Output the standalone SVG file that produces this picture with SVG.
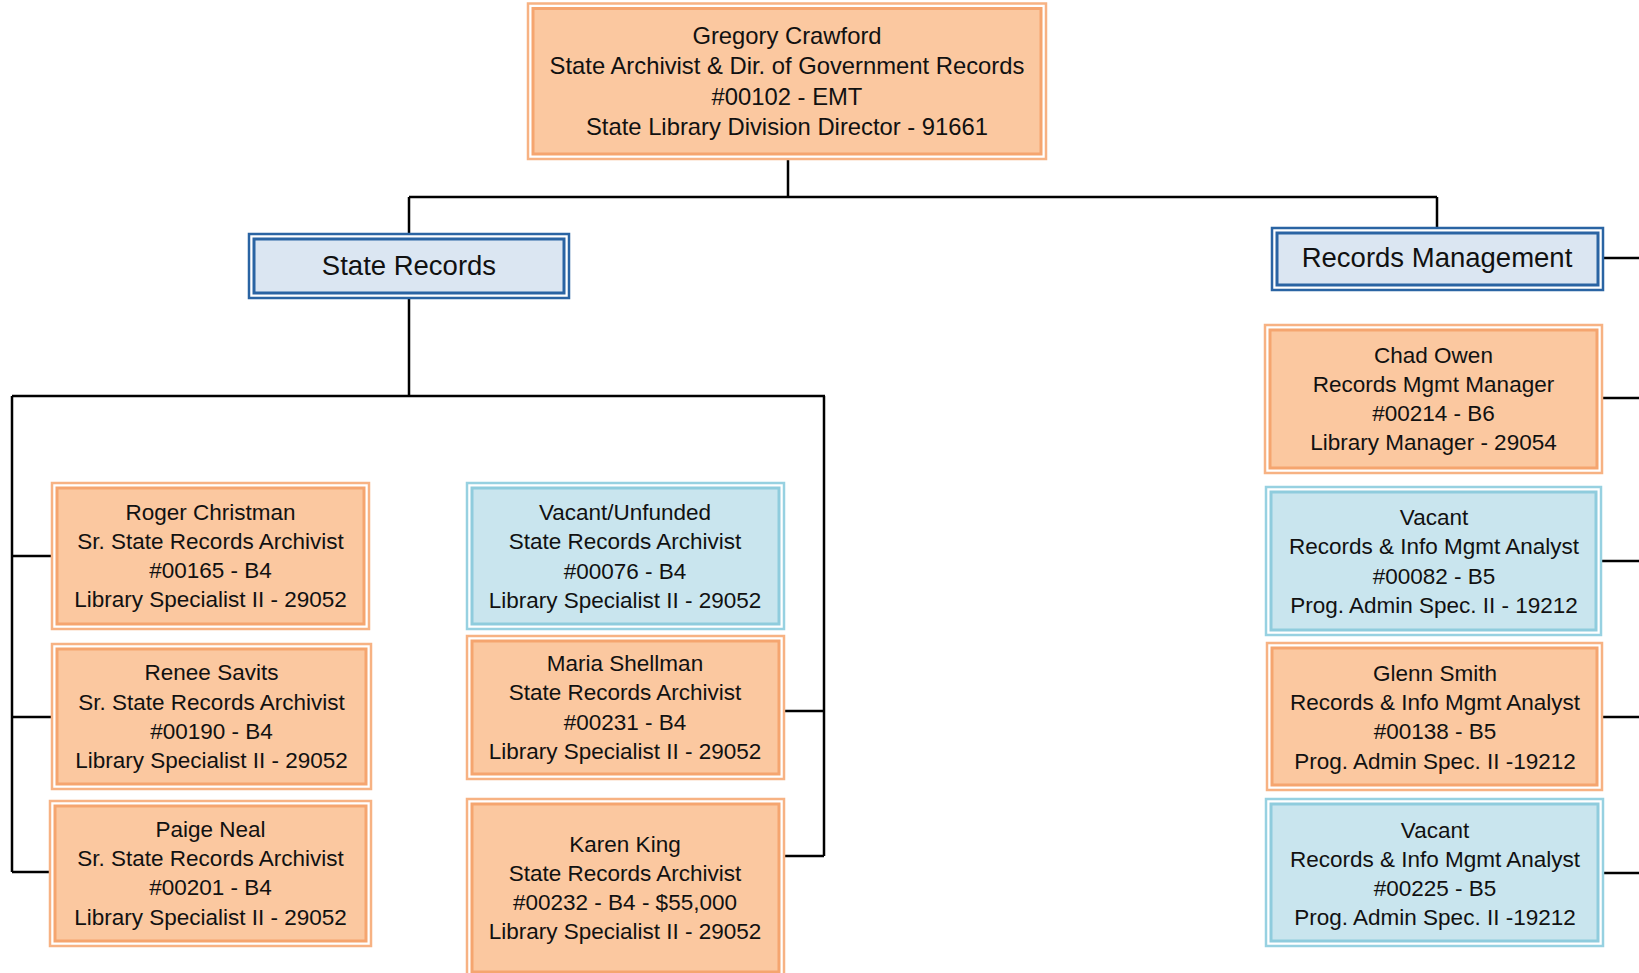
<svg xmlns="http://www.w3.org/2000/svg" width="1639" height="973" viewBox="0 0 1639 973">
<style>
.o1{fill:#ffffff;stroke:#F7B283;stroke-width:2.5}
.o2{fill:#FBC8A0;stroke:#F5A56F;stroke-width:3}
.b1{fill:#ffffff;stroke:#97D1E1;stroke-width:2.5}
.b2{fill:#C9E5EE;stroke:#8FCCDD;stroke-width:3}
.t1{fill:#ffffff;stroke:#2A64A3;stroke-width:2.5}
.t2{fill:#DBE6F2;stroke:#2A64A3;stroke-width:3}
text{font-family:"Liberation Sans",Arial,sans-serif;fill:#111;text-anchor:middle}
.n{font-size:22.5px}
.g{font-size:23.8px}
.h{font-size:27.5px}
.c{fill:none;stroke:#000;stroke-width:2.5}
</style>
<rect width="1639" height="973" fill="#ffffff"/>
<g id="connectors">
<path class="c" d="M788 159V197M409 197H1437M409 197V234M1437 197V228"/>
<path class="c" d="M409 298V396M12 396H825M12 396V872M12 556H52M12 717H52M12 872H50"/>
<path class="c" d="M824 396V856M784 711H824M784 856H824"/>
<path class="c" d="M1603 258H1639M1602 398H1639M1601 561H1639M1602 717H1639M1603 873H1639"/>
</g>
<g id="gregory">
<rect class="o1" x="528" y="3.5" width="518" height="155.5"/>
<rect class="o2" x="533" y="8.5" width="508" height="145.5"/>
<text class="g" x="787" y="43.5">Gregory Crawford</text>
<text class="g" x="787" y="74">State Archivist &amp; Dir. of Government Records</text>
<text class="g" x="787" y="104.5">#00102 - EMT</text>
<text class="g" x="787" y="135">State Library Division Director - 91661</text>
</g>
<g id="state-records">
<rect class="t1" x="249" y="234" width="320" height="64"/>
<rect class="t2" x="254" y="239" width="310" height="54"/>
<text class="h" x="409" y="275">State Records</text>
</g>
<g id="records-management">
<rect class="t1" x="1272" y="228" width="331" height="62"/>
<rect class="t2" x="1277" y="233" width="321" height="52"/>
<text class="h" x="1437" y="267">Records Management</text>
</g>
<g id="roger">
<rect class="o1" x="52" y="483" width="317" height="146"/>
<rect class="o2" x="57" y="488" width="307" height="136"/>
<text class="n" x="210.5" y="520">Roger Christman</text>
<text class="n" x="210.5" y="549">Sr. State Records Archivist</text>
<text class="n" x="210.5" y="578">#00165 - B4</text>
<text class="n" x="210.5" y="607">Library Specialist II - 29052</text>
</g>
<g id="renee">
<rect class="o1" x="52" y="644" width="319" height="145"/>
<rect class="o2" x="57" y="649" width="309" height="135"/>
<text class="n" x="211.5" y="680">Renee Savits</text>
<text class="n" x="211.5" y="709.5">Sr. State Records Archivist</text>
<text class="n" x="211.5" y="739">#00190 - B4</text>
<text class="n" x="211.5" y="768">Library Specialist II - 29052</text>
</g>
<g id="paige">
<rect class="o1" x="50" y="801" width="321" height="145"/>
<rect class="o2" x="55" y="806" width="311" height="135"/>
<text class="n" x="210.5" y="836.5">Paige Neal</text>
<text class="n" x="210.5" y="866">Sr. State Records Archivist</text>
<text class="n" x="210.5" y="895">#00201 - B4</text>
<text class="n" x="210.5" y="924.5">Library Specialist II - 29052</text>
</g>
<g id="vacant-unfunded">
<rect class="b1" x="467" y="483" width="317" height="146"/>
<rect class="b2" x="472" y="488" width="307" height="136"/>
<text class="n" x="625" y="520">Vacant/Unfunded</text>
<text class="n" x="625" y="549">State Records Archivist</text>
<text class="n" x="625" y="579">#00076 - B4</text>
<text class="n" x="625" y="608">Library Specialist II - 29052</text>
</g>
<g id="maria">
<rect class="o1" x="467" y="636" width="317" height="143"/>
<rect class="o2" x="472" y="641" width="307" height="133"/>
<text class="n" x="625" y="670.5">Maria Shellman</text>
<text class="n" x="625" y="700">State Records Archivist</text>
<text class="n" x="625" y="729.5">#00231 - B4</text>
<text class="n" x="625" y="759">Library Specialist II - 29052</text>
</g>
<g id="karen">
<rect class="o1" x="467" y="799" width="317" height="178"/>
<rect class="o2" x="472" y="804" width="307" height="168"/>
<text class="n" x="625" y="852">Karen King</text>
<text class="n" x="625" y="881">State Records Archivist</text>
<text class="n" x="625" y="910">#00232 - B4 - $55,000</text>
<text class="n" x="625" y="939">Library Specialist II - 29052</text>
</g>
<g id="chad">
<rect class="o1" x="1265" y="325" width="337" height="148"/>
<rect class="o2" x="1270" y="330" width="327" height="138"/>
<text class="n" x="1433.5" y="362.5">Chad Owen</text>
<text class="n" x="1433.5" y="391.5">Records Mgmt Manager</text>
<text class="n" x="1433.5" y="420.5">#00214 - B6</text>
<text class="n" x="1433.5" y="449.5">Library Manager - 29054</text>
</g>
<g id="vacant-00082">
<rect class="b1" x="1266" y="487" width="335" height="148"/>
<rect class="b2" x="1271" y="492" width="325" height="138"/>
<text class="n" x="1434" y="525">Vacant</text>
<text class="n" x="1434" y="554">Records &amp; Info Mgmt Analyst</text>
<text class="n" x="1434" y="583.5">#00082 - B5</text>
<text class="n" x="1434" y="612.5">Prog. Admin Spec. II - 19212</text>
</g>
<g id="glenn">
<rect class="o1" x="1267" y="643" width="335" height="147"/>
<rect class="o2" x="1272" y="648" width="325" height="137"/>
<text class="n" x="1435" y="680.5">Glenn Smith</text>
<text class="n" x="1435" y="709.5">Records &amp; Info Mgmt Analyst</text>
<text class="n" x="1435" y="739">#00138 - B5</text>
<text class="n" x="1435" y="768.5">Prog. Admin Spec. II -19212</text>
</g>
<g id="vacant-00225">
<rect class="b1" x="1266" y="799" width="337" height="147"/>
<rect class="b2" x="1271" y="804" width="327" height="137"/>
<text class="n" x="1435" y="837.5">Vacant</text>
<text class="n" x="1435" y="866.5">Records &amp; Info Mgmt Analyst</text>
<text class="n" x="1435" y="895.5">#00225 - B5</text>
<text class="n" x="1435" y="924.5">Prog. Admin Spec. II -19212</text>
</g>
</svg>
